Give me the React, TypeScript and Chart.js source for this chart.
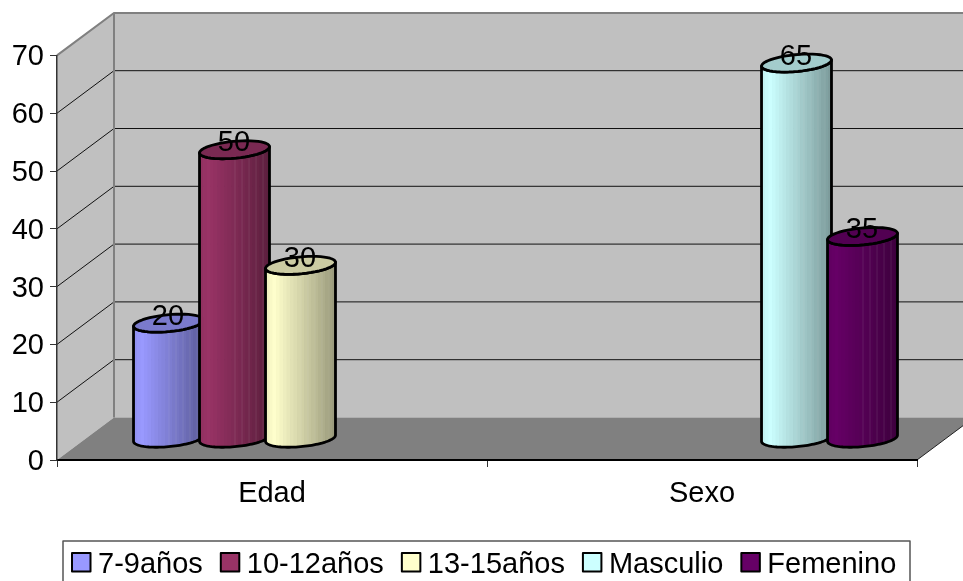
import { useEffect, useRef } from "react";
import { Chart, BarController, BarElement, registerables } from "chart.js";

const categories = ["Edad", "Sexo"];
const edades = ["7-9años", "10-12años", "13-15años"];
const sexos = ["Masculio", "Femenino"];
const edad79 = [20, null];
const edad1012 = [50, null];
const edad1315 = [30, null];
const masculino = [null, 65];
const femenino = [null, 35];
const colores = ["#9999FF", "#993366", "#FFFFCC", "#CCFFFF", "#660066"];

const FONT = '"Liberation Sans", Arial, sans-serif';
const FONT_SIZE = 29;
// Perspective offset between the front plane and the back wall.
const DEPTH_X = 57;
const DEPTH_Y = 42.5;
// Foreshortened circle of a cylinder cap, relative to its half width of 35.
const CAP_SHEAR_X = 12 / 35;
const CAP_MINOR = 9 / 35;

function rgb(hex: string, k: number, lift = 0) {
  const n = parseInt(hex.slice(1), 16);
  const ch = (v: number) => Math.min(255, Math.round(v * k + lift));
  return `rgb(${ch((n >> 16) & 255)},${ch((n >> 8) & 255)},${ch(n & 255)})`;
}

function capPoint(cx: number, cy: number, r: number, t: number) {
  const vx = r * CAP_SHEAR_X;
  const ux = Math.sqrt(r * r - vx * vx);
  return [cx + ux * Math.cos(t) + vx * Math.sin(t), cy - r * CAP_MINOR * Math.sin(t)];
}

const TILT = Math.atan2(CAP_SHEAR_X, Math.sqrt(1 - CAP_SHEAR_X * CAP_SHEAR_X));

function traceArc(ctx: CanvasRenderingContext2D, cx: number, cy: number, r: number, from: number, to: number) {
  const steps = 48;
  for (let i = 0; i <= steps; i++) {
    const [x, y] = capPoint(cx, cy, r, from + ((to - from) * i) / steps);
    ctx.lineTo(x, y);
  }
}

// Bar element painted as an upright cylinder standing halfway into the floor.
class CylinderElement extends BarElement {
  static id = "cylinder";
  draw(ctx: CanvasRenderingContext2D) {
    const { x, y, base, width } = (this as any).getProps(["x", "y", "base", "width"]);
    const color = (this as any).options.backgroundColor as string;
    const r = (width * 1.06) / 2;
    const cx = x + DEPTH_X / 2;
    const top = y - DEPTH_Y / 2;
    const bottom = base - DEPTH_Y / 2;
    const left = Math.PI + TILT;
    const right = 2 * Math.PI + TILT;

    const outline = () => {
      ctx.beginPath();
      traceArc(ctx, cx, bottom, r, left, right);
      traceArc(ctx, cx, top, r, right, left);
      ctx.closePath();
    };

    ctx.save();
    outline();
    ctx.clip();
    const band = 3.5;
    const x0 = cx - r;
    const span = 2 * r;
    for (let i = 0; i * band < span; i++) {
      const f = (i * band + band / 2) / span;
      const k = f < 0.12 ? 0.94 + f * 0.5 : 1 - ((f - 0.12) / 0.88) * 0.4;
      ctx.fillStyle = rgb(color, k);
      ctx.fillRect(x0 + i * band, top - 20, band + 0.5, bottom - top + 40);
      if (f > 0.45 && i % 2 === 0) {
        ctx.fillStyle = "rgba(255,255,255,0.10)";
        ctx.fillRect(x0 + i * band, top - 20, 1, bottom - top + 40);
      }
    }
    ctx.restore();

    ctx.lineWidth = 2.8;
    ctx.lineJoin = "round";
    ctx.strokeStyle = "#000";
    outline();
    ctx.stroke();

    ctx.beginPath();
    traceArc(ctx, cx, top, r, 0, 2 * Math.PI);
    ctx.closePath();
    ctx.fillStyle = rgb(color, 0.8);
    ctx.fill();
    ctx.stroke();
  }
}

// Painting is left to the plugin below, which layers the series front to back.
class CylinderController extends BarController {
  static id = "cylinder";
  static defaults = { ...BarController.defaults, dataElementType: "cylinder" };
  static overrides = BarController.overrides;
  draw() {}
}

// Side wall, back wall, floor and receding gridlines behind the axes.
const roomPlugin = {
  id: "room",
  afterLayout(chart: any) {
    // Optical centring of the value axis numbers on their tick marks.
    chart.scales.y.getLabelItems(chart.chartArea).forEach((item: any) => {
      item.textOffset += 2;
    });
  },
  beforeDraw(chart: any) {
    const { ctx, chartArea: a, scales } = chart;
    const y = scales.y;
    const poly = (pts: number[][], fill: string) => {
      ctx.beginPath();
      pts.forEach(([px, py], i) => (i ? ctx.lineTo(px, py) : ctx.moveTo(px, py)));
      ctx.closePath();
      ctx.fillStyle = fill;
      ctx.fill();
    };
    const topF = y.getPixelForValue(70);
    const botF = y.getPixelForValue(0);
    const backL = a.left + DEPTH_X;
    const backR = a.right + DEPTH_X;
    ctx.save();
    ctx.fillStyle = "#fff";
    ctx.fillRect(0, 0, chart.width, chart.height);
    poly([[backL, topF - DEPTH_Y], [backR, topF - DEPTH_Y], [backR, botF - DEPTH_Y], [backL, botF - DEPTH_Y]], "#C0C0C0");
    poly([[a.left, topF], [backL, topF - DEPTH_Y], [backL, botF - DEPTH_Y], [a.left, botF]], "#C0C0C0");
    poly([[a.left, botF], [a.right, botF], [backR, botF - DEPTH_Y], [backL, botF - DEPTH_Y]], "#808080");

    ctx.strokeStyle = "#111";
    ctx.lineWidth = 1;
    y.ticks.forEach((t: any) => {
      if (t.value === 0 || t.value === 70) return;
      const py = y.getPixelForValue(t.value);
      ctx.beginPath();
      ctx.moveTo(a.left, py);
      ctx.lineTo(backL, py - DEPTH_Y);
      ctx.lineTo(backR, py - DEPTH_Y);
      ctx.stroke();
    });

    ctx.strokeStyle = "#808080";
    ctx.lineWidth = 2;
    ctx.beginPath();
    ctx.moveTo(a.left, topF);
    ctx.lineTo(backL, topF - DEPTH_Y);
    ctx.lineTo(backR, topF - DEPTH_Y);
    ctx.moveTo(backL, topF - DEPTH_Y);
    ctx.lineTo(backL, botF - DEPTH_Y);
    ctx.stroke();

    ctx.strokeStyle = "#222";
    ctx.lineWidth = 1;
    ctx.beginPath();
    ctx.moveTo(a.right, botF);
    ctx.lineTo(backR, botF - DEPTH_Y);
    ctx.stroke();
    ctx.restore();
  },
};

// Cylinders in series order, values over their caps, and the framed legend row.
const labelsPlugin = {
  id: "labels",
  afterDatasetsDraw(chart: any) {
    const { ctx } = chart;
    chart.data.datasets.forEach((ds: any, i: number) => {
      chart.getDatasetMeta(i).data.forEach((el: any, j: number) => {
        if (ds.data[j] !== null) el.draw(ctx);
      });
    });

    ctx.save();
    ctx.font = `${FONT_SIZE}px ${FONT}`;
    ctx.fillStyle = "#000";
    ctx.textAlign = "center";
    ctx.textBaseline = "alphabetic";
    chart.data.datasets.forEach((ds: any, i: number) => {
      chart.getDatasetMeta(i).data.forEach((el: any, j: number) => {
        const v = ds.data[j];
        if (v === null) return;
        ctx.fillText(String(v), el.x + DEPTH_X / 2 - 0.5, el.y - DEPTH_Y / 2 + 1.5);
      });
    });

    const frame = { x: 63, y: 541, w: 847, h: 60 };
    ctx.strokeStyle = "#555";
    ctx.lineWidth = 1.5;
    ctx.strokeRect(frame.x, frame.y, frame.w, frame.h);
    ctx.textAlign = "left";
    let x = frame.x + 8;
    chart.data.datasets.forEach((ds: any) => {
      ctx.fillStyle = ds.backgroundColor;
      ctx.fillRect(x + 1, 553, 18.5, 18.5);
      ctx.strokeStyle = "#000";
      ctx.lineWidth = 2;
      ctx.strokeRect(x + 1, 553, 18.5, 18.5);
      ctx.fillStyle = "#000";
      ctx.fillText(ds.label, x + 27, 572.5);
      x += 27 + ctx.measureText(ds.label).width + 17;
    });
    ctx.restore();
  },
};

Chart.register(...registerables, CylinderController, CylinderElement);

export default function App() {
  const ref = useRef<HTMLCanvasElement>(null);
  useEffect(() => {
    const tickFont = { family: FONT, size: FONT_SIZE };
    const series = [
      { label: edades[0], data: edad79, backgroundColor: colores[0] },
      { label: edades[1], data: edad1012, backgroundColor: colores[1] },
      { label: edades[2], data: edad1315, backgroundColor: colores[2] },
      { label: sexos[0], data: masculino, backgroundColor: colores[3] },
      { label: sexos[1], data: femenino, backgroundColor: colores[4] },
    ];
    const chart = new Chart(ref.current!, {
      type: "cylinder" as any,
      data: {
        labels: categories,
        datasets: series.map((s) => ({ ...s, barPercentage: 1, categoryPercentage: 330 / 430 })),
      },
      options: {
        responsive: false,
        animation: false,
        layout: { autoPadding: false, padding: { left: 0, right: 46, top: 55.4, bottom: 0 } },
        plugins: { legend: { display: false }, tooltip: { enabled: false } },
        scales: {
          x: {
            type: "category",
            offset: true,
            afterFit: (s: any) => { s.height = 121; },
            border: { display: true, color: "#000", width: 2 },
            grid: { display: true, offset: true, drawOnChartArea: false, drawTicks: true, tickLength: 7, tickColor: "#333", lineWidth: 1 },
            ticks: { font: tickFont, color: "#000", padding: 10, maxRotation: 0, autoSkip: false },
          },
          y: {
            type: "linear",
            min: 0,
            max: 70,
            afterFit: (s: any) => { s.width = 57; },
            border: { display: true, color: "#333", width: 1.5 },
            grid: { display: true, drawOnChartArea: false, drawTicks: true, tickLength: 7, tickColor: "#333", lineWidth: 1 },
            ticks: { font: tickFont, color: "#000", padding: 6, stepSize: 10 },
          },
        },
      } as any,
      plugins: [roomPlugin, labelsPlugin],
    });
    return () => chart.destroy();
  }, []);
  return (
    <div style={{ position: "absolute", left: 0, top: 0, width: 963, height: 581 }}>
      <canvas ref={ref} width={963} height={581} style={{ display: "block" }} />
    </div>
  );
}
